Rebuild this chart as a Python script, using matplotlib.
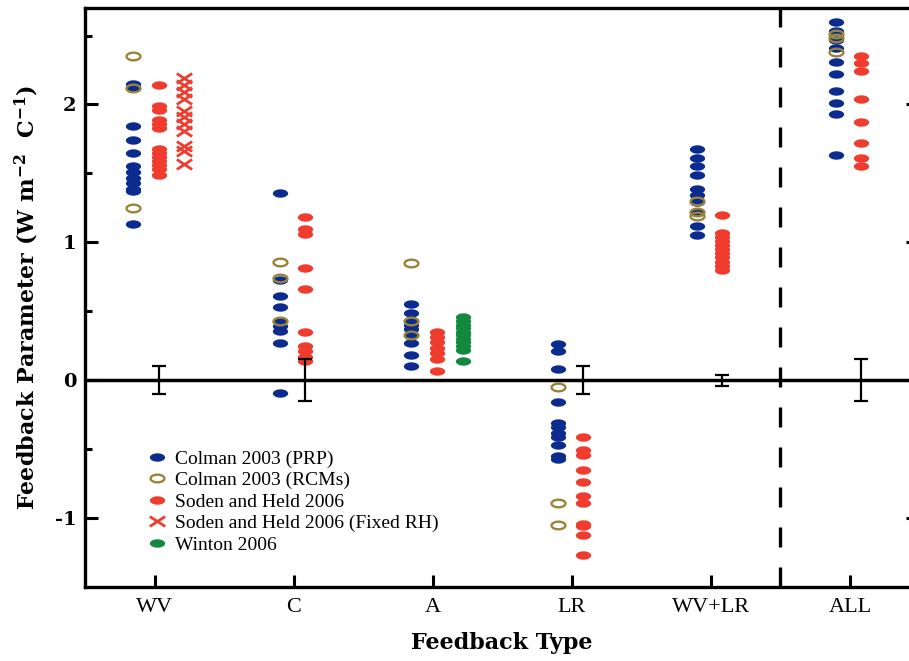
import numpy as np
import matplotlib.pyplot as plt
from matplotlib.path import Path

plt.rcParams["mathtext.fontset"] = "dejavuserif"

categories = ["WV", "C", "A", "LR", "WV+LR", "ALL"]

# values per category, in the order of categories (empty = not shown)
colman_prp = [
    [2.15, 2.12, 1.84, 1.74, 1.65, 1.55, 1.51, 1.47, 1.43, 1.39, 1.37, 1.13],
    [1.36, 0.73, 0.61, 0.53, 0.43, 0.39, 0.36, 0.27, -0.09],
    [0.55, 0.49, 0.43, 0.40, 0.37, 0.33, 0.27, 0.18, 0.10],
    [0.26, 0.21, 0.08, -0.16, -0.31, -0.34, -0.38, -0.41, -0.47, -0.55, -0.57],
    [1.68, 1.61, 1.55, 1.49, 1.39, 1.34, 1.29, 1.22, 1.12, 1.05],
    [2.60, 2.53, 2.47, 2.41, 2.31, 2.22, 2.10, 2.01, 1.93, 1.63],
]
colman_rcm = [
    [2.35, 2.12, 1.25],
    [0.86, 0.74, 0.43],
    [0.85, 0.43, 0.33],
    [-0.05, -0.89, -1.05],
    [1.30, 1.22, 1.19],
    [2.51, 2.48, 2.38],
]
soden_held = [
    [2.14, 1.99, 1.96, 1.89, 1.86, 1.83, 1.68, 1.65, 1.62, 1.59, 1.56, 1.53, 1.49],
    [1.18, 1.10, 1.06, 0.81, 0.66, 0.35, 0.25, 0.21, 0.17, 0.14],
    [0.35, 0.31, 0.28, 0.23, 0.20, 0.15, 0.07],
    [-0.41, -0.51, -0.54, -0.65, -0.74, -0.84, -0.89, -1.04, -1.06, -1.12, -1.27],
    [1.20, 1.07, 1.04, 1.01, 0.98, 0.95, 0.92, 0.89, 0.86, 0.83, 0.80],
    [2.35, 2.30, 2.24, 2.04, 1.87, 1.72, 1.61, 1.55],
]
soden_held_rh = [
    [2.19, 2.14, 2.09, 2.04, 1.95, 1.91, 1.86, 1.81, 1.70, 1.66, 1.57],
    [], [], [], [], [],
]
winton = [
    [], [],
    [0.46, 0.43, 0.40, 0.38, 0.35, 0.33, 0.30, 0.28, 0.25, 0.22, 0.14],
    [], [], [],
]
err_cats = ["WV", "C", "LR", "WV+LR", "ALL"]
err_half = [0.10, 0.15, 0.10, 0.04, 0.15]

# horizontal column offsets inside each category
prp_dx = [-0.155, -0.10, -0.155, -0.10, -0.10, -0.10]
sh_dx = [0.035, 0.08, 0.03, 0.08, 0.08, 0.08]
third_dx = 0.215

BLUE = "#0b2c8e"
GOLD = "#9a8236"
RED = "#f03c2e"
GREEN = "#12893e"

t = np.linspace(0, 2 * np.pi, 40)
ellipse = Path(np.column_stack([np.cos(t), 0.55 * np.sin(t)]), closed=True)
xmark = Path([(-1, -0.65), (1, 0.65), (-1, 0.65), (1, -0.65)],
             [Path.MOVETO, Path.LINETO, Path.MOVETO, Path.LINETO])

fig = plt.figure(figsize=(9.09, 6.61), dpi=100)
ax = fig.add_axes([0.0935, 0.112, 0.9165, 0.876])

pos = np.arange(1, len(categories) + 1)


def draw(series, dx, label, **kw):
    first = True
    for i, vals in enumerate(series):
        if len(vals) == 0:
            continue
        d = dx[i] if np.ndim(dx) else dx
        ax.plot(np.full(len(vals), pos[i] + d), vals, ls="none",
                label=label if first else "_nolegend_", **kw)
        first = False


fill_kw = dict(marker=ellipse, markersize=11, markeredgewidth=0)
draw(colman_prp, prp_dx, "Colman 2003 (PRP)", color=BLUE, **fill_kw)
draw(colman_rcm, prp_dx, "Colman 2003 (RCMs)", marker=ellipse, markersize=10,
     markerfacecolor="none", markeredgecolor=GOLD, markeredgewidth=1.7)
draw(soden_held, sh_dx, "Soden and Held 2006", color=RED, **fill_kw)
draw(soden_held_rh, third_dx, "Soden and Held 2006 (Fixed RH)", marker=xmark,
     markersize=11, markerfacecolor="none", markeredgecolor=RED, markeredgewidth=2)
draw(winton, third_dx, "Winton 2006", color=GREEN, **fill_kw)

ex = [pos[categories.index(c)] + sh_dx[categories.index(c)] for c in err_cats]
ax.errorbar(ex, np.zeros(len(ex)), yerr=err_half, fmt="none", ecolor="black",
            elinewidth=1.6, capsize=5, capthick=1.6, zorder=4)

ax.axhline(0, color="black", lw=2.5, zorder=3)
ax.axvline(5.5, color="black", lw=2.4, linestyle=(0, (6, 6)), zorder=3)

ax.set_xlim(0.5, 6.49)
ax.set_ylim(-1.5, 2.7)
ax.set_xticks(pos)
ax.set_xticklabels(categories, family="Liberation Serif", fontsize=16)
ax.set_yticks([-1, 0, 1, 2])
ax.set_yticks([-0.5, 0.5, 1.5, 2.5], minor=True)
ax.set_yticklabels(["-1", "0", "1", "2"], family="DejaVu Serif",
                   fontweight="bold", fontsize=14)
ax.tick_params(axis="both", which="major", direction="in", length=9, width=2.2)
ax.tick_params(axis="y", which="minor", direction="in", length=5, width=2.2)
ax.tick_params(axis="y", which="both", right=True)
ax.tick_params(axis="x", pad=8)
ax.tick_params(axis="y", pad=6)
for s in ax.spines.values():
    s.set_linewidth(2.4)

ax.set_xlabel("Feedback Type", family="DejaVu Serif", fontweight="bold",
              fontsize=16, labelpad=11)
ax.set_ylabel("Feedback Parameter (W m$^{\\mathbf{-2}}$  C$^{\\mathbf{-1}}$)",
              family="DejaVu Serif", fontweight="bold", fontsize=16, labelpad=10)

ax.legend(loc="upper left", bbox_to_anchor=(0.066, 0.250), frameon=False,
          numpoints=1, handlelength=1.0, handletextpad=0.4, labelspacing=0.2,
          borderaxespad=0, prop={"family": "Liberation Serif", "size": 14})

fig.savefig("out.png", dpi=100)
